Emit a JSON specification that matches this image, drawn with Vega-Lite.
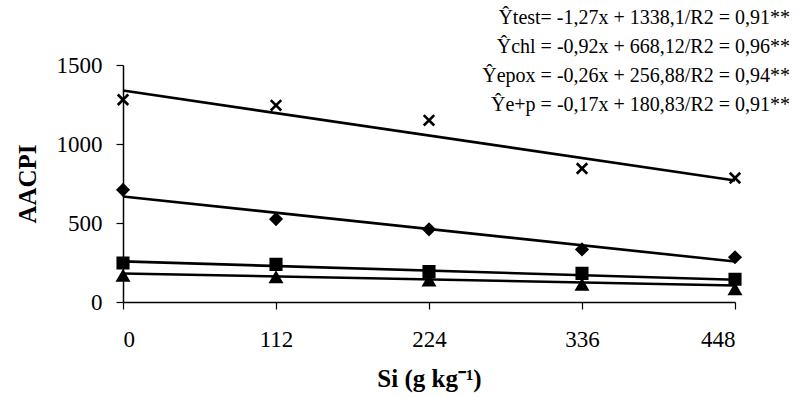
{
  "$schema": "https://vega.github.io/schema/vega-lite/v6.json",
  "width": 612,
  "height": 237,
  "autosize": {"type": "none"},
  "padding": {"left": 123, "top": 65, "right": 65, "bottom": 95},
  "background": "white",
  "title": {
    "text": [
      "Ŷtest= -1,27x + 1338,1/R2 = 0,91**",
      "Ŷchl = -0,92x + 668,12/R2 = 0,96**",
      "Ŷepox = -0,26x + 256,88/R2 = 0,94**",
      "Ŷe+p = -0,17x + 180,83/R2 = 0,91**"
    ],
    "anchor": "end",
    "frame": "group",
    "dx": 55,
    "font": "Liberation Serif",
    "fontSize": 20,
    "fontWeight": "normal",
    "lineHeight": 29,
    "color": "black",
    "baseline": "top",
    "offset": -61
  },
  "datasets": {
    "obs": [
      {"si": 0, "aacpi": 1280, "serie": "test"},
      {"si": 112, "aacpi": 1245, "serie": "test"},
      {"si": 224, "aacpi": 1150, "serie": "test"},
      {"si": 336, "aacpi": 845, "serie": "test"},
      {"si": 448, "aacpi": 785, "serie": "test"},
      {"si": 0, "aacpi": 710, "serie": "chl"},
      {"si": 112, "aacpi": 525, "serie": "chl"},
      {"si": 224, "aacpi": 460, "serie": "chl"},
      {"si": 336, "aacpi": 333, "serie": "chl"},
      {"si": 448, "aacpi": 283, "serie": "chl"},
      {"si": 0, "aacpi": 247, "serie": "epox"},
      {"si": 112, "aacpi": 238, "serie": "epox"},
      {"si": 224, "aacpi": 192, "serie": "epox"},
      {"si": 336, "aacpi": 181, "serie": "epox"},
      {"si": 448, "aacpi": 144, "serie": "epox"},
      {"si": 0, "aacpi": 165, "serie": "e+p"},
      {"si": 112, "aacpi": 156, "serie": "e+p"},
      {"si": 224, "aacpi": 135, "serie": "e+p"},
      {"si": 336, "aacpi": 108, "serie": "e+p"},
      {"si": 448, "aacpi": 80, "serie": "e+p"}
    ],
    "fit": [
      {"si": 0, "aacpi": 1338.1, "serie": "test"},
      {"si": 448, "aacpi": 769.14, "serie": "test"},
      {"si": 0, "aacpi": 668.12, "serie": "chl"},
      {"si": 448, "aacpi": 255.96, "serie": "chl"},
      {"si": 0, "aacpi": 256.88, "serie": "epox"},
      {"si": 448, "aacpi": 140.4, "serie": "epox"},
      {"si": 0, "aacpi": 180.83, "serie": "e+p"},
      {"si": 448, "aacpi": 104.67, "serie": "e+p"}
    ]
  },
  "encoding": {
    "x": {
      "field": "si",
      "type": "quantitative",
      "scale": {"domain": [0, 448], "nice": false, "zero": false},
      "axis": {
        "values": [0, 112, 224, 336, 448],
        "format": "d",
        "title": "Si (g kg⁻¹)",
        "grid": false
      }
    },
    "y": {
      "field": "aacpi",
      "type": "quantitative",
      "scale": {"domain": [0, 1500], "nice": false},
      "axis": {
        "values": [0, 500, 1000, 1500],
        "format": "d",
        "title": "AACPI",
        "grid": false
      }
    }
  },
  "layer": [
    {
      "data": {"name": "fit"},
      "mark": {"type": "line", "color": "black", "strokeWidth": 2.6, "clip": false},
      "encoding": {"detail": {"field": "serie"}}
    },
    {
      "data": {"name": "obs"},
      "mark": {"type": "point", "filled": true, "fill": "black", "stroke": "black", "strokeWidth": 2.6, "opacity": 1, "size": 110, "clip": false},
      "encoding": {
        "shape": {
          "field": "serie",
          "type": "nominal",
          "scale": {
            "domain": ["test", "chl", "epox", "e+p"],
            "range": ["M-1,-1L1,1M1,-1L-1,1", "diamond", "square", "triangle-up"]
          },
          "legend": null
        }
      }
    }
  ],
  "config": {
    "view": {"stroke": null},
    "font": "Liberation Serif",
    "axis": {
      "domainColor": "black",
      "domainWidth": 1.5,
      "tickColor": "black",
      "tickWidth": 1.2,
      "tickSize": 7,
      "labelFont": "Liberation Serif",
      "labelFontSize": 23,
      "labelColor": "black",
      "titleFont": "Liberation Serif",
      "titleFontSize": 25,
      "titleFontWeight": "bold",
      "titleColor": "black"
    },
    "axisX": {"labelPadding": 19, "titlePadding": 15},
    "axisY": {"labelPadding": 14, "titlePadding": 16}
  }
}
